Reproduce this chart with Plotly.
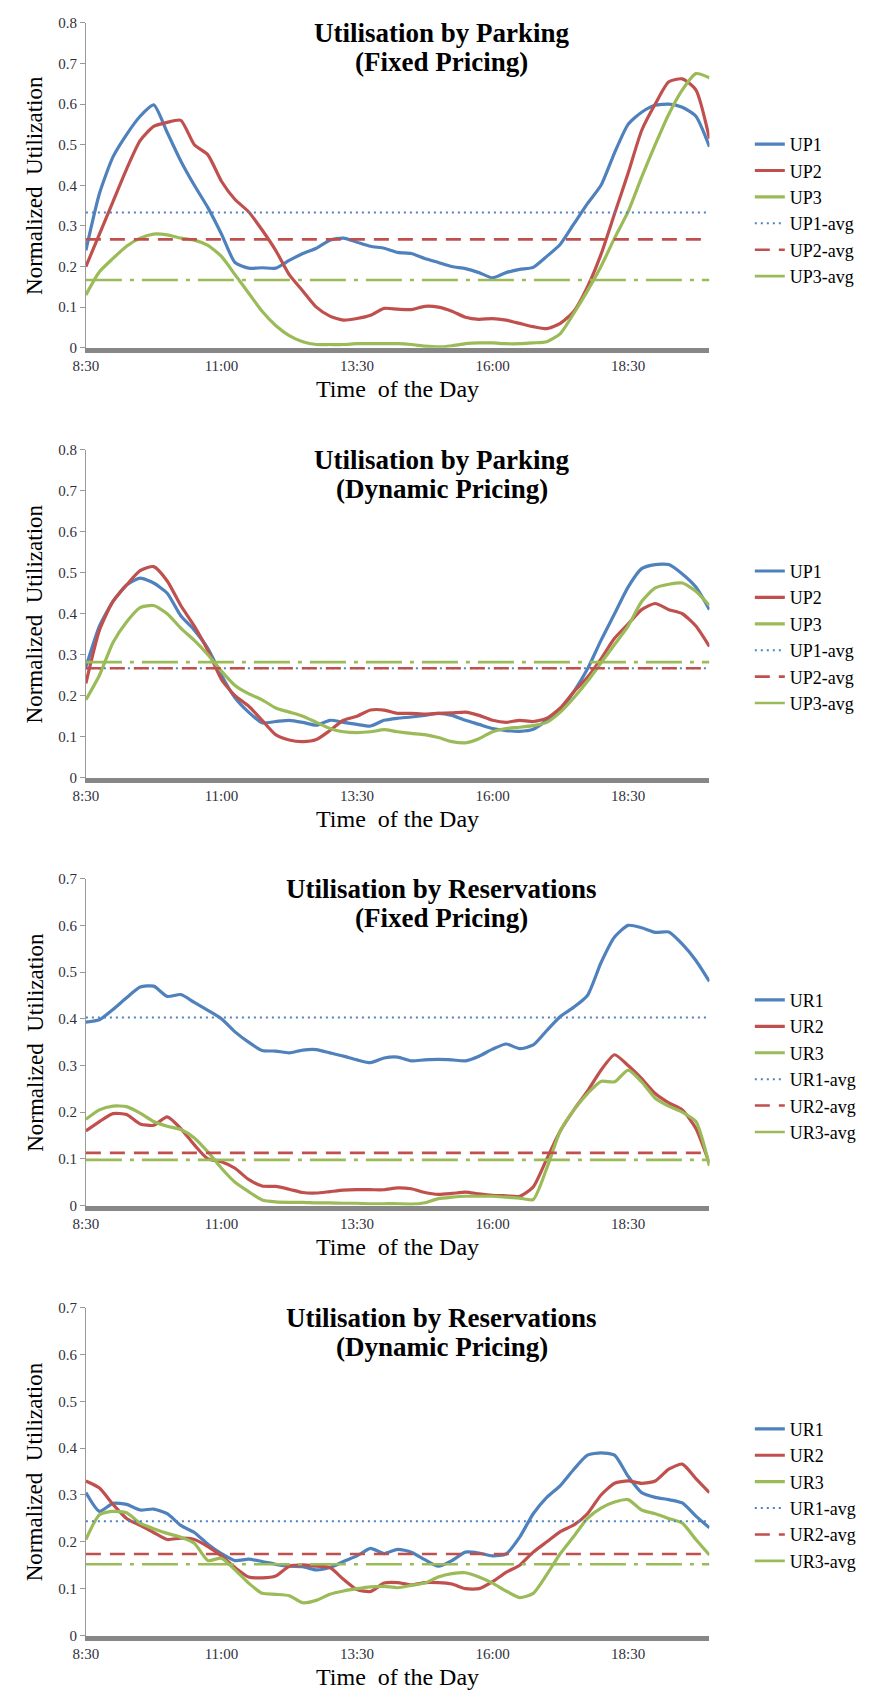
import plotly.graph_objects as go

# ---- time axis (15-minute samples) ----
time_labels = [
    "8:30", "8:45", "9:00", "9:15", "9:30", "9:45",
    "10:00", "10:15", "10:30", "10:45", "11:00", "11:15", "11:30", "11:45",
    "12:00", "12:15", "12:30", "12:45", "13:00", "13:15", "13:30", "13:45",
    "14:00", "14:15", "14:30", "14:45", "15:00", "15:15", "15:30", "15:45",
    "16:00", "16:15", "16:30", "16:45", "17:00", "17:15", "17:30", "17:45",
    "18:00", "18:15", "18:30", "18:45", "19:00", "19:15", "19:30", "19:45",
    "20:00",
]
tick_labels = ["8:30", "11:00", "13:30", "16:00", "18:30"]

# ---- Utilisation by Parking, fixed pricing ----
up1_fixed = [0.24, 0.38, 0.47, 0.525, 0.57, 0.598,
             0.53, 0.46, 0.40, 0.345, 0.28, 0.21, 0.196, 0.197,
             0.196, 0.215, 0.232, 0.245, 0.265, 0.27, 0.26, 0.25,
             0.245, 0.235, 0.232, 0.22, 0.21, 0.20, 0.195, 0.185,
             0.172, 0.185, 0.193, 0.198, 0.225, 0.255, 0.305, 0.355,
             0.40, 0.48, 0.55, 0.58, 0.597, 0.60, 0.592, 0.57,
             0.495]
up2_fixed = [0.20, 0.28, 0.36, 0.44, 0.51, 0.545,
             0.555, 0.56, 0.50, 0.475, 0.41, 0.365, 0.335, 0.29,
             0.24, 0.18, 0.14, 0.10, 0.078, 0.068, 0.072, 0.08,
             0.097, 0.095, 0.094, 0.102, 0.10, 0.09, 0.075, 0.07,
             0.072, 0.068, 0.06, 0.052, 0.047, 0.06, 0.09, 0.15,
             0.23, 0.33, 0.43, 0.535, 0.60, 0.655, 0.662, 0.635,
             0.515]
up3_fixed = [0.13, 0.187, 0.22, 0.25, 0.27, 0.28,
             0.278, 0.27, 0.265, 0.252, 0.225, 0.18, 0.135, 0.09,
             0.055, 0.03, 0.015, 0.008, 0.008, 0.008, 0.01, 0.01,
             0.01, 0.01, 0.008, 0.004, 0.002, 0.005, 0.01, 0.012,
             0.012, 0.01, 0.01, 0.012, 0.015, 0.035, 0.085, 0.14,
             0.20, 0.27, 0.335, 0.42, 0.50, 0.575, 0.635, 0.675,
             0.665]
up_fixed_avg = [0.333, 0.267, 0.167]

# ---- Utilisation by Parking, dynamic pricing ----
up1_dynamic = [0.27, 0.37, 0.43, 0.47, 0.487, 0.475,
               0.45, 0.395, 0.36, 0.315, 0.25, 0.195, 0.16, 0.134,
               0.137, 0.14, 0.135, 0.128, 0.14, 0.135, 0.13, 0.126,
               0.14, 0.145, 0.148, 0.152, 0.157, 0.152, 0.14, 0.13,
               0.12, 0.115, 0.113, 0.118, 0.14, 0.165, 0.21, 0.265,
               0.335, 0.40, 0.465, 0.51, 0.52, 0.52, 0.497, 0.465,
               0.41]
up2_dynamic = [0.23, 0.36, 0.43, 0.47, 0.505, 0.515,
               0.48, 0.42, 0.37, 0.31, 0.24, 0.20, 0.175, 0.14,
               0.105, 0.092, 0.088, 0.093, 0.115, 0.14, 0.15, 0.165,
               0.165, 0.157, 0.157, 0.155, 0.157, 0.158, 0.16, 0.152,
               0.14, 0.135, 0.14, 0.137, 0.145, 0.17, 0.21, 0.245,
               0.29, 0.34, 0.375, 0.41, 0.425, 0.41, 0.40, 0.37,
               0.32]
up3_dynamic = [0.19, 0.25, 0.33, 0.38, 0.415, 0.42,
               0.40, 0.365, 0.335, 0.30, 0.26, 0.225, 0.205, 0.19,
               0.17, 0.16, 0.15, 0.135, 0.12, 0.112, 0.11, 0.112,
               0.117, 0.112, 0.108, 0.105, 0.098, 0.088, 0.085, 0.095,
               0.112, 0.12, 0.123, 0.127, 0.135, 0.16, 0.195, 0.235,
               0.28, 0.325, 0.37, 0.43, 0.463, 0.472, 0.475, 0.455,
               0.42]
up_dynamic_avg = [0.267, 0.267, 0.282]

# ---- Utilisation by Reservations, fixed pricing ----
ur1_fixed = [0.393, 0.398, 0.42, 0.445, 0.468, 0.47,
             0.448, 0.452, 0.435, 0.418, 0.40, 0.372, 0.35, 0.332,
             0.331, 0.327, 0.333, 0.334, 0.327, 0.32, 0.312, 0.306,
             0.316, 0.318, 0.31, 0.312, 0.313, 0.312, 0.31, 0.32,
             0.335, 0.346, 0.336, 0.344, 0.375, 0.405, 0.425, 0.45,
             0.52, 0.575, 0.60, 0.595, 0.585, 0.586, 0.56, 0.525,
             0.48]
ur2_fixed = [0.16, 0.18, 0.197, 0.195, 0.175, 0.172,
             0.19, 0.165, 0.13, 0.10, 0.094, 0.08, 0.056, 0.042,
             0.041, 0.035, 0.028, 0.027, 0.03, 0.033, 0.034, 0.034,
             0.034, 0.038, 0.036, 0.028, 0.024, 0.026, 0.029, 0.025,
             0.022, 0.021, 0.02, 0.04, 0.10, 0.16, 0.205, 0.245,
             0.29, 0.323, 0.30, 0.272, 0.24, 0.22, 0.205, 0.165,
             0.09]
ur3_fixed = [0.185, 0.205, 0.213, 0.212, 0.198, 0.18,
             0.17, 0.163, 0.145, 0.115, 0.08, 0.05, 0.03, 0.012,
             0.008, 0.007, 0.007, 0.006, 0.006, 0.005, 0.005, 0.004,
             0.004, 0.004, 0.003, 0.006, 0.015, 0.018, 0.02, 0.02,
             0.02, 0.018, 0.016, 0.013, 0.08, 0.16, 0.205, 0.24,
             0.266, 0.265, 0.29, 0.265, 0.23, 0.213, 0.20, 0.18,
             0.085]
ur_fixed_avg = [0.403, 0.113, 0.098]

# ---- Utilisation by Reservations, dynamic pricing ----
ur1_dynamic = [0.305, 0.265, 0.282, 0.28, 0.268, 0.27,
               0.26, 0.235, 0.22, 0.195, 0.175, 0.16, 0.163, 0.158,
               0.152, 0.148, 0.147, 0.14, 0.145, 0.158, 0.17, 0.186,
               0.175, 0.184, 0.178, 0.162, 0.148, 0.16, 0.178, 0.176,
               0.17, 0.174, 0.21, 0.26, 0.295, 0.32, 0.355, 0.385,
               0.39, 0.385, 0.34, 0.305, 0.295, 0.29, 0.283, 0.255,
               0.23]
ur2_dynamic = [0.33, 0.315, 0.28, 0.25, 0.235, 0.22,
               0.205, 0.208, 0.205, 0.19, 0.17, 0.145, 0.125, 0.123,
               0.127, 0.148, 0.151, 0.148, 0.145, 0.12, 0.098, 0.094,
               0.112, 0.113, 0.108, 0.113, 0.113, 0.11, 0.10, 0.10,
               0.115, 0.135, 0.15, 0.178, 0.20, 0.222, 0.236, 0.26,
               0.30, 0.325, 0.33, 0.325, 0.33, 0.355, 0.366, 0.335,
               0.305]
ur3_dynamic = [0.205, 0.258, 0.265, 0.262, 0.24, 0.228,
               0.218, 0.21, 0.197, 0.16, 0.165, 0.14, 0.112, 0.09,
               0.088, 0.085, 0.07, 0.075, 0.088, 0.095, 0.10, 0.104,
               0.105, 0.102, 0.107, 0.112, 0.125, 0.132, 0.134, 0.125,
               0.112, 0.095, 0.081, 0.09, 0.13, 0.175, 0.212, 0.25,
               0.272, 0.285, 0.29, 0.268, 0.26, 0.25, 0.24, 0.205,
               0.172]
ur_dynamic_avg = [0.244, 0.174, 0.152]


def to_hours(label):
    h, m = label.split(":")
    return int(h) + int(m) / 60.0


hours = [to_hours(t) for t in time_labels]
tick_hours = [to_hours(t) for t in tick_labels]

W, H = 870, 1697
FONT = "Liberation Serif"
BLUE, RED, GREEN = "#4F81BD", "#C0504D", "#9BBB59"
COLORS = [BLUE, RED, GREEN]
AVG_DASH = ["2px,4px", "15px,9px", "36px,8px,4px,8px"]

panels = [
    dict(title=("Utilisation by Parking", "(Fixed Pricing)"), prefix="UP",
         series=[up1_fixed, up2_fixed, up3_fixed], avg=up_fixed_avg,
         ymax=0.8, px=(15, 343)),
    dict(title=("Utilisation by Parking", "(Dynamic Pricing)"), prefix="UP",
         series=[up1_dynamic, up2_dynamic, up3_dynamic], avg=up_dynamic_avg,
         ymax=0.8, px=(446, 777)),
    dict(title=("Utilisation by Reservations", "(Fixed Pricing)"), prefix="UR",
         series=[ur1_fixed, ur2_fixed, ur3_fixed], avg=ur_fixed_avg,
         ymax=0.7, px=(879, 1209)),
    dict(title=("Utilisation by Reservations", "(Dynamic Pricing)"), prefix="UR",
         series=[ur1_dynamic, ur2_dynamic, ur3_dynamic], avg=ur_dynamic_avg,
         ymax=0.7, px=(1312, 1643)),
]

X0, X1 = 74, 707
fig = go.Figure()
annotations = []
layout = dict(
    width=W, height=H,
    margin=dict(l=0, r=0, t=0, b=0),
    paper_bgcolor="white", plot_bgcolor="white",
    font=dict(family=FONT, color="black"),
)

for i, p in enumerate(panels):
    n = i + 1
    sfx = "" if n == 1 else str(n)
    leg = "legend" if n == 1 else f"legend{n}"
    top, bot = p["px"]

    # measured series
    for k, ys in enumerate(p["series"]):
        fig.add_trace(go.Scatter(
            x=hours, y=ys, mode="lines", name=f"{p['prefix']}{k + 1}",
            line=dict(color=COLORS[k], width=3.2, shape="spline", smoothing=0.6),
            xaxis=f"x{sfx}", yaxis=f"y{sfx}", legend=leg,
        ))
    # average reference lines
    for k, a in enumerate(p["avg"]):
        fig.add_trace(go.Scatter(
            x=[hours[0], hours[-1]], y=[a, a], mode="lines",
            name=f"{p['prefix']}{k + 1}-avg",
            line=dict(color=COLORS[k], width=2.6 if k else 2, dash=AVG_DASH[k]),
            xaxis=f"x{sfx}", yaxis=f"y{sfx}", legend=leg,
        ))

    ymax = p["ymax"]
    layout[f"xaxis{sfx}"] = dict(
        domain=[X0 / W, X1 / W], anchor=f"y{sfx}",
        range=[hours[0], hours[-1]], tickmode="array",
        tickvals=tick_hours, ticktext=tick_labels,
        showgrid=False, zeroline=False, ticks="",
        showline=True, linecolor="#878787", linewidth=5,
        tickfont=dict(family=FONT, size=15, color="#30303c"),
    )
    layout[f"yaxis{sfx}"] = dict(
        domain=[1 - bot / H, 1 - top / H], anchor=f"x{sfx}",
        range=[0, ymax], tickmode="array",
        tickvals=[round(v * 0.1, 1) for v in range(int(round(ymax * 10)) + 1)],
        ticktext=["0"] + [f"{v * 0.1:.1f}" for v in range(1, int(round(ymax * 10)) + 1)],
        showgrid=False, zeroline=False,
        showline=True, linecolor="#9a9a9a", linewidth=1,
        ticks="outside", ticklen=5, tickcolor="#9a9a9a",
        tickfont=dict(family=FONT, size=15, color="#30303c"),
    )
    layout[leg] = dict(
        x=748 / W, y=1 - (top + 104) / H, xanchor="left", yanchor="top",
        font=dict(family=FONT, size=18, color="black"),
        bgcolor="rgba(0,0,0,0)", borderwidth=0, tracegroupgap=0,
    )

    # chart title (two lines)
    for j, (line_txt, dy) in enumerate(zip(p["title"], (10.5, 40.0))):
        annotations.append(dict(
            text=f"<b>{line_txt}</b>", xref="paper", yref="paper",
            x=435 / W, y=1 - (top + dy) / H, xanchor="center", yanchor="middle",
            showarrow=False, font=dict(family=FONT, size=27, color="black"),
        ))
    # axis titles
    annotations.append(dict(
        text="Time&nbsp; of the Day", xref="paper", yref="paper",
        x=(X0 + X1) / 2 / W, y=1 - (bot + 42) / H, xanchor="center", yanchor="middle",
        showarrow=False, font=dict(family=FONT, size=24, color="black"),
    ))
    annotations.append(dict(
        text="Normalized&nbsp; Utilization", xref="paper", yref="paper",
        x=22 / W, y=1 - (top + bot) / 2 / H, xanchor="center", yanchor="middle",
        textangle=-90, showarrow=False,
        font=dict(family=FONT, size=23, color="black"),
    ))

layout["annotations"] = annotations
layout["showlegend"] = True
fig.update_layout(**layout)
fig.write_html("out.html")
